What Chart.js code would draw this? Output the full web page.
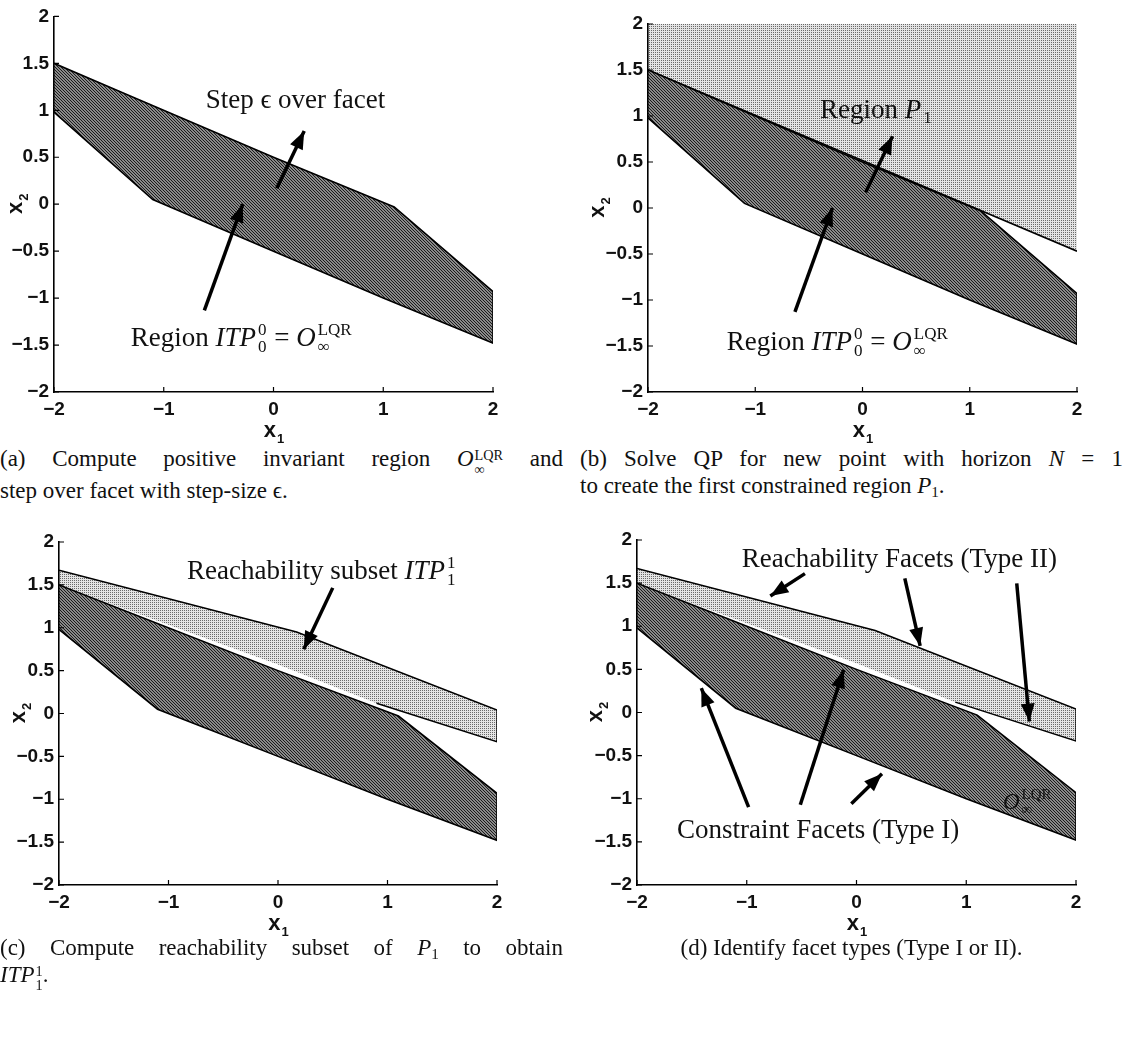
<!DOCTYPE html>
<html>
<head>
<meta charset="utf-8">
<script src="https://cdn.jsdelivr.net/npm/chart.js@4.4.1/dist/chart.umd.min.js"></script>
<style>
  body { margin: 0; background: #fff; }
  #fig { position: relative; width: 1130px; height: 1044px; background: #fff; overflow: hidden; }
  canvas { position: absolute; }
  .cap { position: absolute; font-family: "Liberation Serif", serif; font-size: 23px; line-height: 27px; color: #111; }
  .j { text-align: justify; text-align-last: justify; }
  .ss { display: inline-flex; flex-direction: column; vertical-align: 0.42em; font-size: 0.62em; line-height: 1.0; margin-left: 1px; }
  sub { font-size: 0.66em; vertical-align: -0.25em; line-height: 0; }
</style>
</head>
<body>
<div id="fig">
  <canvas id="chartA" width="545" height="445" style="left:0;top:0"></canvas>
  <canvas id="chartB" width="565" height="445" style="left:565px;top:0"></canvas>
  <canvas id="chartC" width="545" height="420" style="left:0;top:520px"></canvas>
  <canvas id="chartD" width="565" height="420" style="left:565px;top:520px"></canvas>

  <div class="cap" style="left:0;top:445px;width:563px">
    <div class="j">(a) Compute positive invariant region <i>O</i><span class="ss"><span>LQR</span><span>∞</span></span> and</div>
    <div>step over facet with step-size ϵ.</div>
  </div>
  <div class="cap" style="left:580px;top:445px;width:543px">
    <div class="j">(b) Solve QP for new point with horizon <i>N</i> = 1</div>
    <div>to create the first constrained region <i>P</i><sub>1</sub>.</div>
  </div>
  <div class="cap" style="left:0;top:934px;width:563px">
    <div class="j">(c) Compute reachability subset of <i>P</i><sub>1</sub> to obtain</div>
    <div><i>ITP</i><span class="ss"><span>1</span><span>1</span></span>.</div>
  </div>
  <div class="cap" style="left:580px;top:934px;width:543px;text-align:center">
    <div>(d) Identify facet types (Type I or II).</div>
  </div>
</div>

<script>
// axes
var xTicks = [-2, -1, 0, 1, 2];
var xTickLabels = ['−2', '−1', '0', '1', '2'];
var yTicks = [-2, -1.5, -1, -0.5, 0, 0.5, 1, 1.5, 2];
var yTickLabels = ['−2', '−1.5', '−1', '−0.5', '0', '0.5', '1', '1.5', '2'];

// O_inf^LQR polygon (dark hatched region)
var lqrX = [-2, -1.3, 0, 1.1, 2, 2, 1, 0, -1.1, -2];
var lqrY = [1.5, 1.15, 0.5, -0.03, -0.93, -1.48, -1.0, -0.5, 0.05, 0.98];

// lower edge of region P1 (panel b)
var p1X = [-2, 2];
var p1Y = [1.5, -0.47];

// reachability subset ITP_1^1 (panels c, d)
var bandX = [-2, 0.17, 2, 2, 0.9, 0, -2];
var bandY = [1.67, 0.95, 0.04, -0.33, 0.12, 0.57, 1.5];
var bandTopX = [-2, 0.17, 2];
var bandTopY = [1.67, 0.95, 0.04];
var bandLowX = [0.9, 2, 2];
var bandLowY = [0.12, -0.33, 0.04];

// arrows (tail -> head)
var stepArrowX = [0.03, 0.28];
var stepArrowY = [0.17, 0.78];
var regionArrowX = [-0.63, -0.28];
var regionArrowY = [-1.13, 0.0];
var reachArrowX = [0.50, 0.235];
var reachArrowY = [1.465, 0.75];
var typeTwoArrowsX = [[-0.47, -0.785], [0.44, 0.58], [1.46, 1.575]];
var typeTwoArrowsY = [[1.61, 1.35], [1.556, 0.772], [1.498, -0.104]];
var typeOneArrowsX = [[-0.983, -1.414], [-0.512, -0.117], [-0.047, 0.232]];
var typeOneArrowsY = [[-1.097, 0.282], [-1.069, 0.494], [-1.058, -0.71]];

function pts(xs, ys) {
  return xs.map(function(x, i) { return {x: x, y: ys[i]}; });
}

function hatchPattern() {
  var c = document.createElement('canvas');
  c.width = 3; c.height = 3;
  var g = c.getContext('2d');
  g.fillStyle = '#8a8a8a';
  g.fillRect(0, 0, 3, 3);
  g.fillStyle = '#1c1c1c';
  for (var i = 0; i < 3; i++) g.fillRect(i, i, 1, 1);
  return g.createPattern(c, 'repeat');
}
function dotPattern() {
  var c = document.createElement('canvas');
  c.width = 2; c.height = 2;
  var g = c.getContext('2d');
  g.fillStyle = '#e4e4e4';
  g.fillRect(0, 0, 2, 2);
  g.fillStyle = '#6a6a6a';
  g.fillRect(0, 0, 1, 1);
  return g.createPattern(c, 'repeat');
}
var HATCH = hatchPattern();
var DOTS = dotPattern();

// draw text with stacked super/subscripts, centred on (cx, cy)
function drawRich(ctx, parts, cx, cy, size) {
  var fam = '"Liberation Serif", serif';
  var sm = Math.round(size * 0.64);
  var widths = [], w = 0;
  parts.forEach(function(p) {
    var ww;
    if (p.t !== undefined) {
      ctx.font = (p.it ? 'italic ' : '') + size + 'px ' + fam;
      ww = ctx.measureText(p.t).width;
    } else {
      ctx.font = sm + 'px ' + fam;
      ww = Math.max(ctx.measureText(p.sup || '').width, ctx.measureText(p.sub || '').width) + 3;
    }
    widths.push(ww); w += ww;
  });
  var x = cx - w / 2;
  var base = cy + size * 0.33;
  ctx.fillStyle = '#111';
  ctx.textAlign = 'left';
  ctx.textBaseline = 'alphabetic';
  parts.forEach(function(p, i) {
    if (p.t !== undefined) {
      ctx.font = (p.it ? 'italic ' : '') + size + 'px ' + fam;
      ctx.fillText(p.t, x, base);
    } else {
      ctx.font = sm + 'px ' + fam;
      if (p.sup) ctx.fillText(p.sup, x + 2, base - size * 0.42);
      if (p.sub) ctx.fillText(p.sub, x + 2, base + size * 0.22);
    }
    x += widths[i];
  });
}

function axisTitle(ctx, cx, cy, sub, rotate) {
  ctx.save();
  ctx.translate(cx, cy);
  if (rotate) ctx.rotate(-Math.PI / 2);
  ctx.fillStyle = '#111';
  ctx.textBaseline = 'alphabetic';
  ctx.textAlign = 'left';
  ctx.font = 'bold 22px "Liberation Sans"';
  var w1 = ctx.measureText('x').width;
  ctx.font = 'bold 13px "Liberation Sans"';
  var w2 = ctx.measureText(sub).width;
  var x0 = -(w1 + w2) / 2;
  ctx.font = 'bold 22px "Liberation Sans"';
  ctx.fillText('x', x0, 6);
  ctx.font = 'bold 13px "Liberation Sans"';
  ctx.fillText(sub, x0 + w1 + 1, 12);
  ctx.restore();
}

var decor = {
  id: 'decor',
  afterDatasetsDraw: function(chart) {
    var ctx = chart.ctx;
    chart.data.datasets.forEach(function(ds, i) {
      if (!ds.arrow) return;
      var pts = chart.getDatasetMeta(i).data;
      var a = pts[pts.length - 2], b = pts[pts.length - 1];
      var ang = Math.atan2(b.y - a.y, b.x - a.x);
      var L = 18, W = 7;
      ctx.save();
      ctx.fillStyle = '#000';
      ctx.beginPath();
      ctx.moveTo(b.x, b.y);
      ctx.lineTo(b.x - L * Math.cos(ang) + W * Math.sin(ang), b.y - L * Math.sin(ang) - W * Math.cos(ang));
      ctx.lineTo(b.x - L * Math.cos(ang) - W * Math.sin(ang), b.y - L * Math.sin(ang) + W * Math.cos(ang));
      ctx.closePath();
      ctx.fill();
      ctx.restore();
    });
  },
  afterDraw: function(chart, args, opts) {
    var ctx = chart.ctx, xs = chart.scales.x, ys = chart.scales.y, area = chart.chartArea;
    // inward ticks
    ctx.save();
    ctx.strokeStyle = '#000';
    ctx.lineWidth = 1.2;
    ctx.beginPath();
    xTicks.forEach(function(v) {
      var px = xs.getPixelForValue(v);
      ctx.moveTo(px, area.bottom); ctx.lineTo(px, area.bottom - 5);
    });
    yTicks.forEach(function(v) {
      var py = ys.getPixelForValue(v);
      ctx.moveTo(area.left, py); ctx.lineTo(area.left + 5, py);
    });
    ctx.stroke();
    ctx.restore();
    axisTitle(ctx, (area.left + area.right) / 2, area.bottom + 39, '1', false);
    axisTitle(ctx, area.left + opts.yTitleDx, (area.top + area.bottom) / 2, '2', true);
    (opts.texts || []).forEach(function(t) {
      drawRich(ctx, t.parts, xs.getPixelForValue(t.x), ys.getPixelForValue(t.y), t.size);
    });
  }
};

function arrowSet(xs, ys) {
  return {data: pts(xs, ys), showLine: true, borderColor: '#000', borderWidth: 3.5,
          pointRadius: 0, fill: false, arrow: true, borderCapStyle: 'butt'};
}
function lqrSet() {
  return {data: pts(lqrX, lqrY), showLine: true, borderColor: '#000', borderWidth: 1.6,
          backgroundColor: HATCH, pointRadius: 0, fill: 'shape', tension: 0};
}

function makePanel(id, box, datasets, texts, yTitleDx) {
  var cv = document.getElementById(id);
  return new Chart(cv.getContext('2d'), {
    type: 'scatter',
    data: {datasets: datasets},
    plugins: [decor],
    options: {
      responsive: false,
      animation: false,
      devicePixelRatio: 1,
      layout: {padding: {top: box.top, right: box.right, left: 0, bottom: 0}},
      plugins: {
        legend: {display: false},
        tooltip: {enabled: false},
        decor: {texts: texts, yTitleDx: yTitleDx}
      },
      scales: {
        x: {
          type: 'linear', min: -2, max: 2,
          afterBuildTicks: function(s) { s.ticks = xTicks.map(function(v) { return {value: v}; }); },
          afterFit: function(s) { s.height = box.xh; },
          ticks: {
            padding: 6, color: '#111',
            font: {family: 'Liberation Sans', size: 19, weight: 'bold'},
            callback: function(v) { return xTickLabels[xTicks.indexOf(v)]; }
          },
          grid: {display: true, drawOnChartArea: false, drawTicks: false},
          border: {display: true, color: '#000', width: 1.6, z: 1}
        },
        y: {
          type: 'linear', min: -2, max: 2,
          afterBuildTicks: function(s) { s.ticks = yTicks.map(function(v) { return {value: v}; }); },
          afterFit: function(s) { s.width = box.yw; },
          ticks: {
            padding: 5, color: '#111',
            font: {family: 'Liberation Sans', size: 19, weight: 'bold'},
            callback: function(v) { return yTickLabels[yTicks.indexOf(v)]; }
          },
          grid: {display: true, drawOnChartArea: false, drawTicks: false},
          border: {display: true, color: '#000', width: 1.6, z: 1}
        }
      }
    }
  });
}

var regionText = [{t: 'Region '}, {t: 'ITP', it: true}, {sup: '0', sub: '0'}, {t: ' = '}, {t: 'O', it: true}, {sup: 'LQR', sub: '∞'}];

// (a)
makePanel('chartA', {top: 15, right: 52, xh: 53, yw: 54}, [
  arrowSet(stepArrowX, stepArrowY),
  arrowSet(regionArrowX, regionArrowY),
  lqrSet()
], [
  {x: 0.2, y: 1.12, size: 27, parts: [{t: 'Step ϵ over facet'}]},
  {x: -0.29, y: -1.42, size: 27, parts: regionText}
], -38);

// (b)
makePanel('chartB', {top: 24, right: 53, xh: 53, yw: 83}, [
  arrowSet(stepArrowX, stepArrowY),
  arrowSet(regionArrowX, regionArrowY),
  lqrSet(),
  {data: pts(p1X, p1Y), showLine: true, borderColor: '#000', borderWidth: 1.6,
   backgroundColor: DOTS, pointRadius: 0, fill: 'end'}
], [
  {x: 0.13, y: 1.08, size: 27, parts: [{t: 'Region '}, {t: 'P', it: true}, {sub: '1'}]},
  {x: -0.23, y: -1.45, size: 27, parts: regionText}
], -50);

function bandSets() {
  return [
    {data: pts(bandTopX, bandTopY), showLine: true, borderColor: '#000', borderWidth: 1.6, pointRadius: 0, fill: false},
    {data: pts(bandLowX, bandLowY), showLine: true, borderColor: '#000', borderWidth: 1.4, pointRadius: 0, fill: false},
    {data: pts(bandX, bandY), showLine: true, borderWidth: 0, borderColor: 'rgba(0,0,0,0)',
     backgroundColor: DOTS, pointRadius: 0, fill: 'shape'}
  ];
}

// (c)
makePanel('chartC', {top: 22, right: 48, xh: 55, yw: 59},
  [arrowSet(reachArrowX, reachArrowY), lqrSet()].concat(bandSets()),
  [{x: 0.4, y: 1.67, size: 27, parts: [{t: 'Reachability subset '}, {t: 'ITP', it: true}, {sup: '1', sub: '1'}]}],
  -40);

// (d)
var dSets = [];
typeTwoArrowsX.forEach(function(xs, i) { dSets.push(arrowSet(xs, typeTwoArrowsY[i])); });
typeOneArrowsX.forEach(function(xs, i) { dSets.push(arrowSet(xs, typeOneArrowsY[i])); });
dSets.push(lqrSet());
dSets = dSets.concat(bandSets());
makePanel('chartD', {top: 20, right: 54, xh: 55, yw: 72}, dSets, [
  {x: 0.39, y: 1.79, size: 27, parts: [{t: 'Reachability Facets (Type II)'}]},
  {x: -0.35, y: -1.35, size: 27, parts: [{t: 'Constraint Facets (Type I)'}]},
  {x: 1.56, y: -1.03, size: 23, parts: [{t: 'O', it: true}, {sup: 'LQR', sub: '∞'}]}
], -41);
</script>
</body>
</html>
